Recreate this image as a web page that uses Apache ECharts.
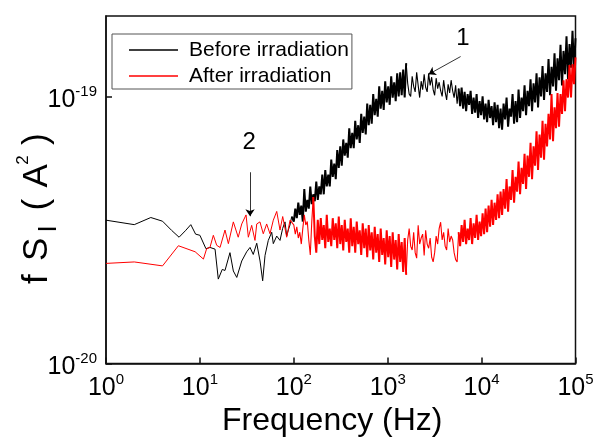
<!DOCTYPE html>
<html><head><meta charset="utf-8">
<script src="https://cdn.jsdelivr.net/npm/echarts@6/dist/echarts.min.js"></script>
<style>html,body{margin:0;padding:0;background:#fff}#c{width:603px;height:438px}</style>
</head><body><div id="c"></div>
<script>
const FONT = '"Liberation Sans", Arial, sans-serif';
const seriesNames = ['Before irradiation', 'After irradiation'];
const seriesColors = ['#000000', '#ff0000'];
const xRange = [1, 1e5];
const yRange = [1e-20, 2e-19];
const unit = 1e-20; // all values below are in units of 1e-20 A^2

// low-frequency part: explicit frequencies (Hz) and values
const beforeLowFreq = [1,2,3,4,5,6,7,8,9,10,11.6,12.8,14.5,15.7,17.3,18.5,20.9,22.7,24.7,27.9,31.5,34.2,37,40.3,43.7,46.6,49.4,53.5,58.2,60.5,65.8,71.3,76,80.6,84,87.4,91,95];
const beforeLowVal  = [3.44,3.31,3.52,3.41,3.15,2.97,3.14,3.31,3.05,3.02,2.69,2.72,2.68,2.07,2.25,2.23,2.6,2.22,2.1,2.42,2.62,2.72,2.56,2.82,2.42,2.04,2.54,2.89,3.1,2.81,3.0,2.89,3.2,3.39,3.0,3.16,3.3,3.55];
const afterLowFreq = [1,2,4,5.9,8.9,10.9,11.8,12.8,13.9,15.1,16.4,18.5,20.1,22.7,25.6,27.9,31,32.8,35.6,38.6,40.3,43.6,47.3,51.4,55.8,60.5,65.8,71.3,76.2,84,91.2];
const afterLowVal  = [2.37,2.40,2.32,2.76,2.62,2.46,2.69,2.72,3.02,2.77,2.72,3.16,2.81,3.39,2.97,3.33,3.6,2.97,3.29,2.89,3.33,3.39,3.06,3.33,3.06,3.44,3.71,3.16,3.55,2.97,3.44];

// high-frequency part: values on an evenly log-spaced frequency grid (spectrum bins)
const bandStart = 100, bandEnd = 100000;
const beforeBand = [
3.4,3.8,3.5,4.0,3.6,3.9,3.4,4.5,3.7,4.1,
3.8,4.6,3.95,4.3,4.05,4.8,4.1,4.6,4.3,5.1,
4.3,5.3,4.6,5.1,4.6,5.8,5.0,5.6,4.9,6.3,
5.4,6.5,5.5,6.9,6.0,6.7,5.9,7.6,6.4,7.3,
6.4,8.1,6.9,7.8,6.7,8.6,7.3,8.4,7.2,9.4,
7.8,9.3,7.9,10.2,8.5,9.8,8.4,10.9,9.0,10.5,
8.9,11.4,9.5,10.9,9.3,11.9,9.9,11.3,9.6,12.2,
10.0,12.3,10.1,12.6,9.9,13.3,11.2,10.2,10.0,11.9,
10.9,10.4,12.3,11.0,9.9,11.4,10.6,12.1,10.8,10.4,
12.2,11.0,11.8,10.6,10.1,11.7,10.7,11.3,10.5,10.0,
11.5,10.4,9.7,11.1,10.3,11.5,10.5,9.9,11.0,9.4,
10.7,9.2,10.8,9.0,10.4,8.8,10.2,9.3,10.5,8.6,
9.9,8.7,10.2,8.3,9.6,8.5,10.0,8.2,9.4,8.0,
9.7,8.3,9.2,7.8,9.5,8.0,9.3,7.6,9.0,7.5,
9.4,8.2,9.9,7.7,9.0,8.4,10.2,7.9,9.6,8.0,
10.6,8.3,9.9,8.8,11.0,8.5,10.5,9.2,11.6,8.8,
11.2,9.5,12.2,9.1,11.8,10.0,13.0,9.7,12.2,10.4,
13.8,10.1,12.9,10.9,14.5,10.5,13.9,11.5,15.6,11.0,
14.8,12.1,16.8,11.6,15.7,12.8,17.6,12.5,16.5
];
const afterBand = [
3.3,3.05,3.25,2.95,3.1,2.8,3.2,3.6,3.3,3.4,
2.9,2.55,3.4,4.2,3.0,2.6,3.45,2.8,3.5,2.9,
3.3,2.7,3.6,2.85,3.2,2.75,3.5,2.9,3.35,2.7,
3.55,2.8,3.3,2.65,3.45,2.85,3.2,2.6,3.5,2.75,
3.25,2.6,3.4,2.8,3.15,2.55,3.35,2.7,3.2,2.5,
3.3,2.65,3.1,2.45,3.25,2.6,3.05,2.4,3.2,2.55,
2.95,2.35,3.15,2.5,3.0,2.3,3.1,2.45,2.9,2.25,
3.05,2.4,2.85,2.2,2.95,2.15,2.9,3.2,2.75,2.66,
3.1,2.6,2.48,3.29,2.8,2.95,3.05,2.54,3.15,2.8,
2.7,2.95,2.5,2.4,2.6,3.0,2.8,3.2,3.38,2.9,
3.1,2.75,2.66,3.2,2.85,3.0,2.9,2.6,2.45,2.4,
3.1,2.75,3.3,2.85,3.45,2.8,3.2,2.9,3.5,2.8,
3.35,2.95,3.6,2.9,3.4,3.0,3.65,3.05,3.8,3.1,
3.9,3.25,4.1,3.3,4.0,3.45,4.3,3.5,4.4,3.6,
4.5,3.8,4.9,3.7,4.6,4.1,5.3,4.0,5.0,4.4,
5.7,4.3,5.4,4.7,6.1,4.5,6.0,5.0,6.7,4.9,
6.5,5.5,7.4,5.3,7.2,5.9,8.1,5.8,7.9,6.5,
8.6,6.9,10.2,6.8,9.1,7.6,10.3,7.7,10.2,8.6,
11.5,8.8,11.6,9.9,13.1,9.9,13.2,11.1,14.0
];
// bins where each trace is a dense noise band (drawn heavier) vs. sparse wiggles
const beforeDense = [[0, 75], [110, 188]];
const afterDense = [[13, 75], [110, 188]];

// annotations (data coordinates: Hz, A^2)
const annoLabels = ['1', '2'];
const annoTextAt = [[6340, 1.65e-19], [33.4, 6.73e-20]];
const annoArrowFrom = [[5975, 1.41e-19], [34.2, 5.2e-20]];
const annoArrowTo = [[2727, 1.21e-19], [34.2, 3.56e-20]];

function bandFreqs(n) {
  const l0 = Math.log10(bandStart), l1 = Math.log10(bandEnd), a = [];
  for (let i = 0; i < n; i++) a.push(Math.pow(10, l0 + (l1 - l0) * i / (n - 1)));
  return a;
}
function lowData(f, v) { return f.map((x, i) => [x, v[i] * unit]); }
function bandPoints(band) {
  const bf = bandFreqs(band.length);
  return band.map((v, i) => [bf[i], v * unit]);
}
// split the band into consecutive pieces: [points, dense?]
function pieces(low, band, dense) {
  const pts = bandPoints(band);
  const out = [];
  let cur = 0;
  const bounds = [];
  dense.forEach(r => { if (r[0] > cur) bounds.push([cur, r[0], false]); bounds.push([r[0], r[1], true]); cur = r[1]; });
  if (cur < pts.length - 1) bounds.push([cur, pts.length - 1, false]);
  bounds.forEach((b, k) => {
    const seg = pts.slice(b[0], b[1] + 1);
    if (k === 0) seg.unshift(low[low.length - 1]);
    out.push([seg, b[2]]);
  });
  return out;
}
const beforeLow = lowData(beforeLowFreq, beforeLowVal);
const afterLow = lowData(afterLowFreq, afterLowVal);

function powLabel(v) {
  const l = Math.log10(v), e = Math.round(l);
  if (Math.abs(l - e) > 0.01) return '';
  return '{b|10}{s|' + e + '}';
}
const richLbl = {
  b: {fontSize: 25, lineHeight: 32, fontFamily: FONT, color: '#000'},
  s: {fontSize: 15, lineHeight: 13, verticalAlign: 'top', fontFamily: FONT, color: '#000'}
};
const axisCommon = {
  type: 'log', logBase: 10,
  axisLine: {show: true, onZero: false, lineStyle: {color: '#111', width: 1.5}},
  axisTick: {show: true, inside: true, length: 6, lineStyle: {color: '#111', width: 1.5}},
  splitLine: {show: false}, minorTick: {show: false}, minorSplitLine: {show: false}
};
function lineSeries(name, color, data, width, extra) {
  return Object.assign({name: name, type: 'line', data: data, symbol: 'none', showSymbol: false,
    lineStyle: {color: color, width: width, join: 'miter', miterLimit: 3}, itemStyle: {color: color},
    emphasis: {disabled: true}, silent: true, animation: false}, extra || {});
}
function traceSeries(name, color, low, band, dense) {
  const s = [lineSeries(name, color, low, 1)];
  pieces(low, band, dense).forEach(p => s.push(lineSeries(name, color, p[0], p[1] ? 2 : 1.1)));
  return s;
}

// y-axis title pieces: [text, fontSize, start (screen y), cross centre (screen x)]
const yTitle = [['f', 35, 284, 37.5], ['S', 35, 261, 37.5], ['I', 26, 232.5, 48.5], ['(', 35, 210.5, 37.5], ['A', 35, 187.5, 37.5], ['2', 17, 164.7, 23], [')', 35, 145, 37.5]];

const annoSeries = {
  name: 'annotations', type: 'line', data: [], silent: true, animation: false,
  markLine: {
    silent: true, symbol: ['none', 'arrow'], symbolSize: 7, animation: false,
    lineStyle: {color: '#000', width: 0.8, type: 'solid'}, itemStyle: {color: '#000'},
    label: {show: false}, emphasis: {disabled: true},
    data: annoArrowFrom.map((p, i) => [{coord: p}, {coord: annoArrowTo[i]}])
  },
  markPoint: {
    silent: true, symbol: 'circle', symbolSize: 1, itemStyle: {color: 'rgba(0,0,0,0)'}, animation: false,
    label: {show: true, position: 'inside', formatter: p => p.name, fontSize: 24, fontFamily: FONT, color: '#000'},
    emphasis: {disabled: true},
    data: annoTextAt.map((p, i) => ({name: annoLabels[i], coord: p}))
  }
};

const chart = echarts.init(document.getElementById('c'), null, {renderer: 'canvas'});
chart.setOption({
  animation: false,
  backgroundColor: '#fff',
  grid: {left: 106, right: 27.5, top: 16, bottom: 74.5, show: true, borderColor: '#111', borderWidth: 1.5, backgroundColor: 'transparent', containLabel: false},
  legend: {
    show: true, orient: 'vertical', left: 112, top: 34, padding: [5, 3, 2, 17],
    itemGap: 4, itemWidth: 49, itemHeight: 1.5, borderColor: '#555', borderWidth: 1, borderRadius: 0,
    backgroundColor: '#fff', selectedMode: false,
    textStyle: {fontSize: 21, fontFamily: FONT, color: '#000', lineHeight: 22, padding: [0, 0, 0, 6]},
    data: seriesNames.map(n => ({name: n, icon: 'rect'}))
  },
  xAxis: Object.assign({}, axisCommon, {
    min: xRange[0], max: xRange[1],
    axisLabel: {margin: 9, formatter: powLabel, rich: richLbl, showMinLabel: true, showMaxLabel: true}
  }),
  yAxis: Object.assign({}, axisCommon, {
    min: yRange[0], max: yRange[1],
    axisLabel: {margin: 9, formatter: powLabel, rich: richLbl, padding: [8, 0, 0, 0], showMaxLabel: false}
  }),
  series: [].concat(
    traceSeries(seriesNames[0], seriesColors[0], beforeLow, beforeBand, beforeDense),
    traceSeries(seriesNames[1], seriesColors[1], afterLow, afterBand, afterDense),
    [annoSeries]
  ),
  graphic: [
    {type: 'text', left: 222, top: 405, silent: true,
     style: {text: 'Frequency (Hz)', fontSize: 32, fontFamily: FONT, fill: '#000'}},
    {type: 'group', x: 0, y: 0, rotation: Math.PI / 2, silent: true,
     children: yTitle.map(t => ({type: 'text', x: -t[2], y: t[3],
       style: {text: t[0], fontSize: t[1], fontFamily: FONT, fill: '#000', align: 'left', verticalAlign: 'middle'}}))}
  ]
});
</script>
</body></html>
